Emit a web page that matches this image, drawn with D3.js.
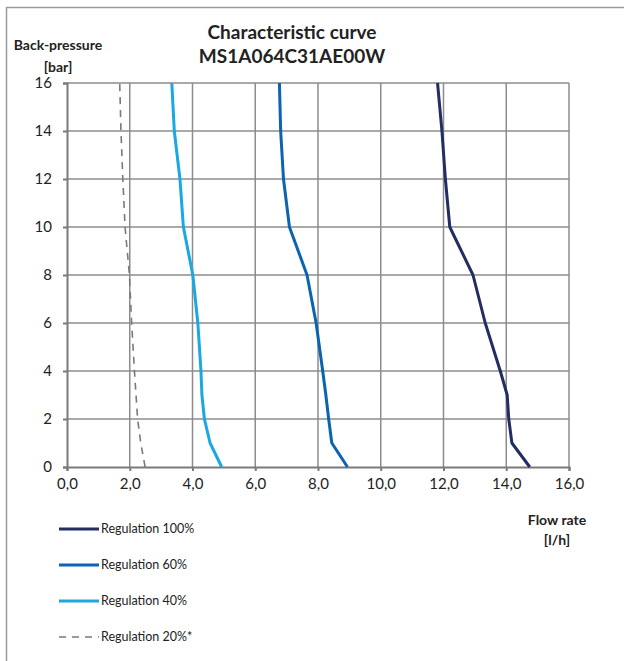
<!DOCTYPE html>
<html>
<head>
<meta charset="utf-8">
<title>Characteristic curve</title>
<script src="https://d3js.org/d3.v7.min.js"></script>
<style>
  body { margin: 0; background: #fff; }
  text { font-family: Lato, "Open Sans", sans-serif; fill: #222; }
</style>
</head>
<body>
<script>
// data (flow rate l/h vs back-pressure bar)
const pressure = [0, 1, 2, 3, 4, 6, 8, 10, 12, 14, 16];
const flow100 = [14.75, 14.18, 14.08, 14.03, 13.81, 13.33, 12.94, 12.20, 12.06, 11.95, 11.81];
const flow60 = [8.94, 8.44, 8.34, 8.25, 8.15, 7.94, 7.65, 7.09, 6.90, 6.81, 6.77];
const flow40 = [4.93, 4.56, 4.38, 4.30, 4.27, 4.17, 4.01, 3.71, 3.60, 3.42, 3.34];
const flow20 = [2.49, 2.35, 2.25, 2.20, 2.15, 2.06, 1.99, 1.85, 1.78, 1.72, 1.68];

const seriesNames = ["Regulation 100%", "Regulation 60%", "Regulation 40%", "Regulation 20%*"];
const seriesColors = ["#222d62", "#0b64b0", "#1aa8e2", "#7a7a7a"];
const xTicks = [0, 2, 4, 6, 8, 10, 12, 14, 16];
const yTicks = [0, 2, 4, 6, 8, 10, 12, 14, 16];

const series = [flow100, flow60, flow40, flow20];

const width = 624, height = 661;
const plot = {left: 67, right: 569, top: 83, bottom: 467};

const svg = d3.select("body").append("svg")
  .attr("width", width)
  .attr("height", height);

// frame
svg.append("line").attr("x1", 6).attr("x2", width).attr("y1", 7.5).attr("y2", 7.5)
  .attr("stroke", "#9a9a9a").attr("stroke-width", 1.5);
svg.append("line").attr("x1", 6.5).attr("x2", 6.5).attr("y1", 7).attr("y2", height)
  .attr("stroke", "#9a9a9a").attr("stroke-width", 1.5);

const x = d3.scaleLinear().domain([0, 16]).range([plot.left, plot.right]);
const y = d3.scaleLinear().domain([0, 16]).range([plot.bottom, plot.top]);

// grid
const grid = svg.append("g").attr("stroke", "#8c8c8c").attr("stroke-width", 1.5);
grid.selectAll("line.v").data(xTicks.slice(1)).join("line")
  .attr("class", "v")
  .attr("x1", d => x(d)).attr("x2", d => x(d))
  .attr("y1", plot.top).attr("y2", plot.bottom);
grid.selectAll("line.h").data(yTicks.slice(1)).join("line")
  .attr("class", "h")
  .attr("x1", plot.left).attr("x2", plot.right)
  .attr("y1", d => y(d)).attr("y2", d => y(d));

// axes
const xAxis = svg.append("g")
  .attr("transform", "translate(0," + plot.bottom + ")")
  .call(d3.axisBottom(x).tickValues(xTicks).tickSize(4).tickPadding(7)
    .tickFormat(d => d3.format(".1f")(d).replace(".", ",")));
const yAxis = svg.append("g")
  .attr("transform", "translate(" + plot.left + ",0)")
  .call(d3.axisLeft(y).tickValues(yTicks).tickSize(4).tickPadding(11));

[xAxis, yAxis].forEach(a => {
  a.select(".domain").attr("stroke", "#7a7a7a").attr("stroke-width", 2);
  a.selectAll(".tick line").attr("stroke", "#7a7a7a").attr("stroke-width", 2);
  a.selectAll(".tick text")
    .attr("font-family", "Lato, sans-serif")
    .attr("font-size", 15)
    .attr("fill", "#222");
});

// curves
const line = d3.line()
  .x(d => x(d[0]))
  .y(d => y(d[1]));

series.forEach((s, i) => {
  const pts = s.map((v, j) => [v, pressure[j]]);
  svg.append("path")
    .datum(pts)
    .attr("fill", "none")
    .attr("stroke", seriesColors[i])
    .attr("stroke-width", i === 3 ? 1.6 : 3)
    .attr("stroke-dasharray", i === 3 ? "7,6" : null)
    .attr("stroke-linejoin", "round")
    .attr("d", line);
});

// titles
svg.append("text").attr("x", 292).attr("y", 39)
  .attr("text-anchor", "middle").attr("font-size", 19).attr("font-weight", "bold")
  .text("Characteristic curve");
svg.append("text").attr("x", 292).attr("y", 63)
  .attr("text-anchor", "middle").attr("font-size", 19).attr("font-weight", "bold")
  .text("MS1A064C31AE00W");

svg.append("text").attr("x", 58).attr("y", 50)
  .attr("text-anchor", "middle").attr("font-size", 14).attr("font-weight", "bold")
  .text("Back-pressure");
svg.append("text").attr("x", 58).attr("y", 72)
  .attr("text-anchor", "middle").attr("font-size", 14).attr("font-weight", "bold")
  .text("[bar]");

svg.append("text").attr("x", 557).attr("y", 525)
  .attr("text-anchor", "middle").attr("font-size", 14).attr("font-weight", "bold")
  .text("Flow rate");
svg.append("text").attr("x", 557).attr("y", 545)
  .attr("text-anchor", "middle").attr("font-size", 14).attr("font-weight", "bold")
  .text("[l/h]");

// legend
const legend = svg.append("g");
seriesNames.forEach((name, i) => {
  const ly = 529 + i * 36;
  legend.append("line")
    .attr("x1", 59).attr("x2", 99).attr("y1", ly).attr("y2", ly)
    .attr("stroke", seriesColors[i])
    .attr("stroke-width", i === 3 ? 1.6 : 3)
    .attr("stroke-dasharray", i === 3 ? "7,6" : null);
  legend.append("text")
    .attr("x", 101).attr("y", ly + 4)
    .attr("font-size", 12.5)
    .text(name);
});
</script>
</body>
</html>
